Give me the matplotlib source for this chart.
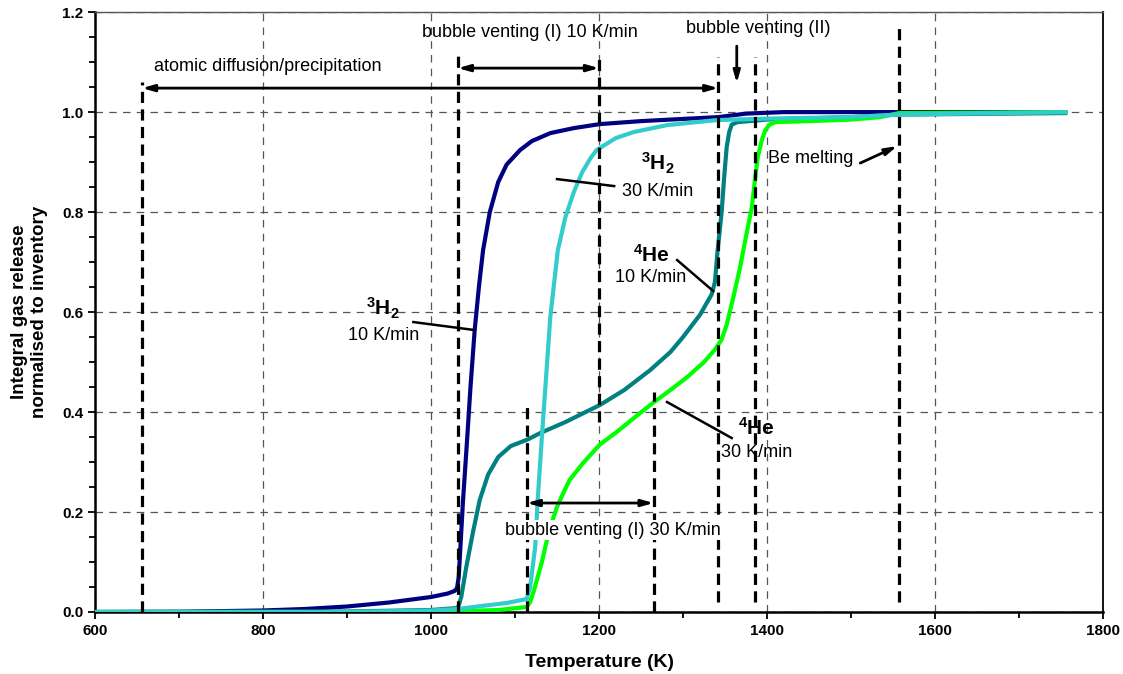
import matplotlib
matplotlib.use("Agg")
from matplotlib import pyplot as plt
from matplotlib.ticker import MultipleLocator

plt.rcParams['font.family'] = ['Liberation Sans', 'DejaVu Sans']
plt.rcParams['mathtext.fontset'] = 'custom'
plt.rcParams['mathtext.rm'] = 'Liberation Sans'
plt.rcParams['mathtext.bf'] = 'Liberation Sans:bold'

# integral release curves, temperature (K) vs fraction of inventory
t_h2_10 = [600, 700, 800, 850, 900, 950, 1000, 1020, 1028, 1031, 1033, 1035, 1038, 1042, 1047,
           1052, 1057, 1062, 1070, 1080, 1090, 1106, 1120, 1142, 1170, 1201, 1250, 1342, 1375,
           1420, 1755]
v_h2_10 = [0.0, 0.0005, 0.003, 0.006, 0.011, 0.019, 0.030, 0.037, 0.042, 0.048, 0.07, 0.13, 0.22,
           0.32, 0.45, 0.564, 0.65, 0.724, 0.80, 0.86, 0.895, 0.924, 0.942, 0.958, 0.968, 0.976,
           0.982, 0.99, 0.997, 1.0, 1.0]

t_he_10 = [600, 900, 1000, 1032, 1036, 1042, 1050, 1058, 1068, 1080, 1095, 1115, 1130, 1160, 1201,
           1230, 1261, 1285, 1300, 1320, 1334, 1338, 1341, 1346, 1349, 1352, 1355, 1358, 1365,
           1400, 1500, 1555, 1755]
v_he_10 = [0.0, 0.001, 0.004, 0.008, 0.03, 0.09, 0.16, 0.224, 0.275, 0.31, 0.332, 0.345, 0.358, 0.38,
           0.414, 0.444, 0.484, 0.52, 0.55, 0.594, 0.635, 0.66, 0.72, 0.80, 0.87, 0.93, 0.96, 0.975,
           0.98, 0.985, 0.99, 0.995, 0.998]

t_h2_30 = [600, 900, 1000, 1032, 1060, 1090, 1114, 1118, 1121, 1124, 1127, 1132, 1142, 1151, 1160,
           1170, 1180, 1190, 1197, 1220, 1241, 1281, 1340, 1400, 1500, 1555, 1755]
v_h2_30 = [0.0, 0.0, 0.003, 0.006, 0.012, 0.018, 0.026, 0.05, 0.09, 0.13, 0.224, 0.35, 0.59, 0.724,
           0.79, 0.84, 0.88, 0.908, 0.924, 0.948, 0.96, 0.974, 0.984, 0.987, 0.99, 0.995, 1.0]

t_he_30 = [600, 1000, 1080, 1114, 1118, 1122, 1126, 1132, 1138, 1144, 1150, 1158, 1165, 1181, 1201,
           1221, 1243, 1264, 1285, 1305, 1325, 1338, 1346, 1352, 1360, 1368, 1376, 1382, 1386,
           1389, 1394, 1398, 1403, 1410, 1450, 1500, 1535, 1557, 1755]
v_he_30 = [0.0, 0.0, 0.004, 0.01, 0.02, 0.04, 0.064, 0.10, 0.144, 0.18, 0.21, 0.24, 0.264, 0.298,
           0.335, 0.36, 0.39, 0.418, 0.444, 0.47, 0.50, 0.525, 0.545, 0.575, 0.63, 0.69, 0.76, 0.81,
           0.87, 0.91, 0.945, 0.964, 0.975, 0.98, 0.982, 0.985, 0.99, 0.998, 1.0]

# dashed marker lines: temperature, lower and upper limit
markers = [(656, 0.0, 1.06), (1032, 0.0, 1.12), (1200, 0.38, 1.118), (1342, 0.02, 1.11),
           (1386, 0.02, 1.11), (1557, 0.02, 1.17), (1114, 0.0, 0.416), (1265, 0.0, 0.44)]

fig = plt.figure(figsize=(11.23, 6.74), dpi=100)
ax = fig.add_axes([0.0846, 0.092, 0.8976, 0.890])

lw = 3.0
ax.plot(t_h2_10, v_h2_10, color='#000080', lw=lw, zorder=3)
ax.plot(t_he_10, v_he_10, color='#008080', lw=lw, zorder=3)
ax.plot(t_h2_30, v_h2_30, color='#33CCCC', lw=lw, zorder=4)
ax.plot(t_he_30, v_he_30, color='#00FF00', lw=lw, zorder=3)

for t, lo, hi in markers:
    ax.plot([t, t], [lo, hi], color='black', lw=2.3, linestyle=(0, (3.5, 2)), zorder=5)

arrow2 = dict(arrowstyle='<|-|>,head_length=0.7,head_width=0.2', color='black', lw=2,
              shrinkA=0, shrinkB=0)
arrow1 = dict(arrowstyle='-|>,head_length=0.7,head_width=0.2', color='black', lw=2,
              shrinkA=0, shrinkB=0)

ax.annotate('', xy=(656, 1.048), xytext=(1342, 1.048), arrowprops=arrow2, zorder=6)
ax.annotate('', xy=(1032, 1.088), xytext=(1200, 1.088), arrowprops=arrow2, zorder=6)
ax.annotate('', xy=(1114, 0.218), xytext=(1265, 0.218), arrowprops=arrow2, zorder=6)
ax.annotate('', xy=(1364, 1.058), xytext=(1364, 1.132), arrowprops=arrow1, zorder=6)
ax.annotate('', xy=(1555, 0.932), xytext=(1511, 0.898), arrowprops=arrow1, zorder=6)

fs = 13
ax.text(806, 1.092, 'atomic diffusion/precipitation', fontsize=fs, ha='center', va='center')
ax.text(1118, 1.16, 'bubble venting (I) 10 K/min', fontsize=fs, ha='center', va='center')
ax.text(1389, 1.168, 'bubble venting (II)', fontsize=fs, ha='center', va='center')
ax.text(1217, 0.164, 'bubble venting (I) 30 K/min', fontsize=fs, ha='center', va='center',
        bbox=dict(facecolor='white', edgecolor='none', pad=1), zorder=6)
ax.text(1452, 0.908, 'Be melting', fontsize=fs, ha='center', va='center')

# curve labels with leader lines
labels = [
    (r'$\mathbf{^{3}H_{2}}$', '10 K/min', 943, 0.608, 0.554, (979, 0.58), (1052, 0.564)),
    (r'$\mathbf{^{3}H_{2}}$', '30 K/min', 1270, 0.898, 0.842, (1218, 0.852), (1150, 0.866)),
    (r'$\mathbf{^{4}He}$', '10 K/min', 1262, 0.714, 0.67, (1293, 0.704), (1336, 0.642)),
    (r'$\mathbf{^{4}He}$', '30 K/min', 1388, 0.368, 0.32, (1358, 0.348), (1281, 0.42)),
]
for name, rate, tx, y1, y2, p0, p1 in labels:
    ax.text(tx, y1, name, fontsize=15, ha='center', va='center')
    ax.text(tx, y2, rate, fontsize=fs, ha='center', va='center')
    ax.plot([p0[0], p1[0]], [p0[1], p1[1]], color='black', lw=1.8, zorder=6)

ax.set_xlim(600, 1800)
ax.set_ylim(0, 1.2)
ax.xaxis.set_major_locator(MultipleLocator(200))
ax.xaxis.set_minor_locator(MultipleLocator(100))
ax.yaxis.set_major_locator(MultipleLocator(0.2))
ax.yaxis.set_minor_locator(MultipleLocator(0.05))
ax.set_xticklabels([f'{int(v)}' for v in ax.get_xticks()])
ax.set_yticklabels([f'{v:.1f}' for v in ax.get_yticks()])
ax.tick_params(which='both', direction='out', width=1.3, labelsize=11)
ax.tick_params(which='major', length=5)
ax.tick_params(which='minor', length=4)
for lab in ax.get_xticklabels() + ax.get_yticklabels():
    lab.set_fontweight('bold')

ax.grid(True, which='major', color='#555555', linestyle=(0, (6, 5)), lw=0.9)
ax.spines['left'].set_linewidth(1.8)
ax.spines['bottom'].set_linewidth(1.8)
ax.spines['right'].set_linewidth(1.3)
ax.spines['top'].set_linewidth(1.0)
ax.spines['top'].set_color('#555555')

ax.set_xlabel('Temperature (K)', fontsize=14, fontweight='bold', labelpad=12)
ax.set_ylabel('Integral gas release\nnormalised to inventory', fontsize=13.5, fontweight='bold',
              labelpad=10)

fig.savefig('out.png', dpi=100)
